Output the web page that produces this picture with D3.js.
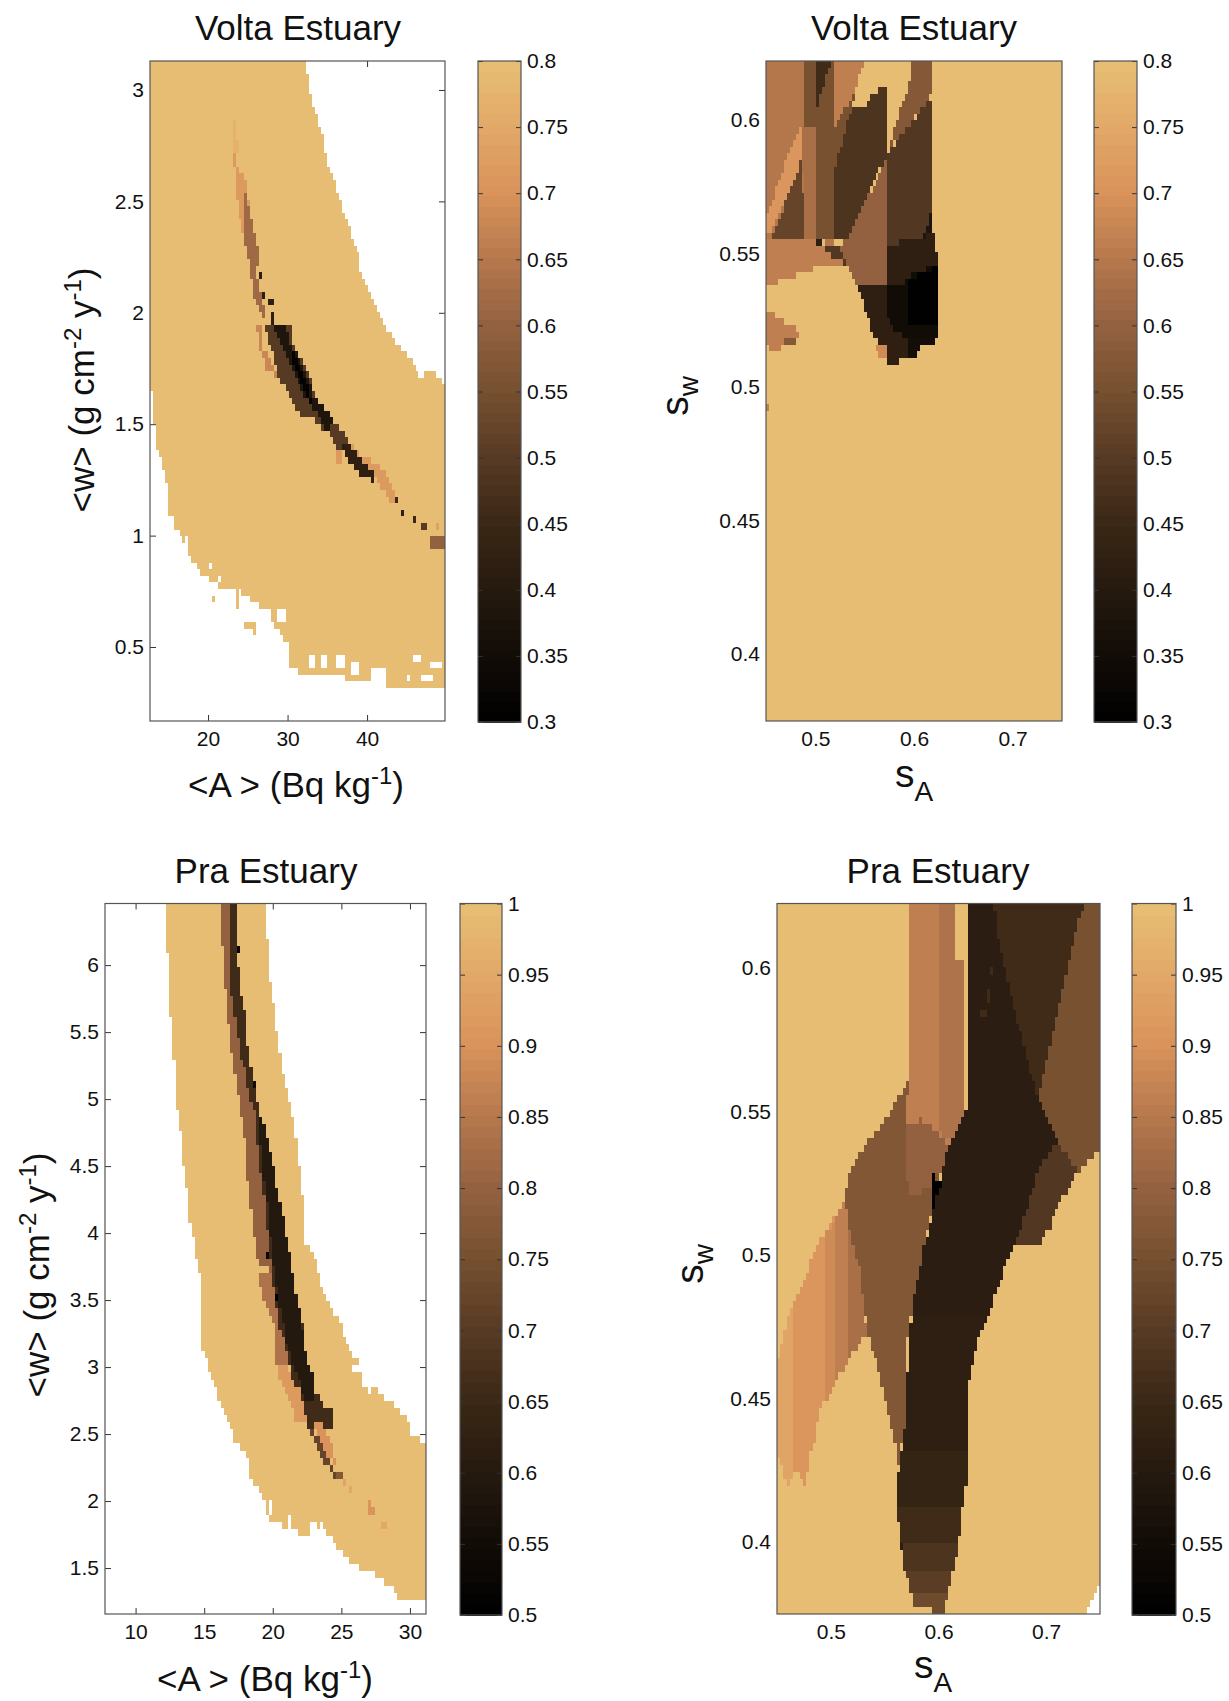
<!DOCTYPE html>
<html>
<head>
<meta charset="utf-8">
<script src="https://cdnjs.cloudflare.com/ajax/libs/d3/7.8.5/d3.min.js"></script>
<style>
  html, body { margin: 0; background: #fff; }
  text { font-family: "Liberation Sans", Arial, sans-serif; fill: #111; }
</style>
</head>
<body>
<svg id="fig" width="1229" height="1701"></svg>
<script>
// tick labels
const voltaCbTicks = [0.3, 0.35, 0.4, 0.45, 0.5, 0.55, 0.6, 0.65, 0.7, 0.75, 0.8];
const praCbTicks = [0.5, 0.55, 0.6, 0.65, 0.7, 0.75, 0.8, 0.85, 0.9, 0.95, 1];
const spreadXTicks = [0.5, 0.6, 0.7];
const spreadYTicks = [0.4, 0.45, 0.5, 0.55, 0.6];
const voltaMeanXTicks = [20, 30, 40];
const voltaMeanYTicks = [0.5, 1, 1.5, 2, 2.5, 3];
const praMeanXTicks = [10, 15, 20, 25, 30];
const praMeanYTicks = [1.5, 2, 2.5, 3, 3.5, 4, 4.5, 5, 5.5, 6];

// colour bar, bottom to top
const barStops = [0, 0.1, 0.2, 0.3, 0.4, 0.5, 0.6, 0.7, 0.8, 0.9, 1];
const barColors = ["#000000", "#120c07", "#251a0f", "#3a2716", "#573a24", "#75502f", "#936140", "#b5784c", "#d9925a", "#e2a868", "#e6bf73"];

// patches are [misfit, [[x, y], ...]] in data units, later ones paint over earlier ones. null is no data.
const voltaMeanPatches = [
  [0.8, [[12.7, 3.13], [32.3, 3.13], [32.8, 3.015], [33.5, 2.9], [34.4, 2.81], [34.7, 2.72], [35.5, 2.63], [36.5, 2.51], [37.6, 2.39], [38.8, 2.27], [39.45, 2.15], [40.7, 2.06], [41.7, 1.97], [44.1, 1.85], [46.1, 1.76], [46.8, 1.69], [47.2, 1.75], [47.9, 1.75], [48.6, 1.72], [49.5, 1.69], [49.8, 1.665], [49.8, 0.317], [47, 0.317], [43.1, 0.317], [41.9, 0.347], [37.2, 0.347], [37, 0.377], [32.3, 0.377], [30.3, 0.407], [29.9, 0.46], [30.6, 0.497], [29.6, 0.527], [28.9, 0.58], [26.6, 0.677], [25.9, 0.707], [23.4, 0.76], [21.7, 0.767], [19.5, 0.8], [18.8, 0.85], [17.5, 0.916], [17, 0.97], [16, 1.03], [15.1, 1.096], [14.8, 1.215], [14.1, 1.33], [13.5, 1.4], [13.3, 1.5], [13, 1.545], [12.85, 1.7], [12.7, 1.7]]],
  [0.77, [[23, 2.87], [23.5, 2.87], [23.7, 2.72], [23.1, 2.72]]],
  [0.72, [[23.2, 2.716], [24, 2.627], [24.7, 2.627], [25.4, 2.433], [24.9, 2.358], [24.3, 2.358], [23.4, 2.567]]],
  [0.62, [[24.7, 2.537], [25.2, 2.478], [25.8, 2.358], [26.15, 2.313], [26.5, 2.254], [26.4, 2.231], [25.9, 2.209], [25, 2.269], [24.5, 2.358]]],
  [0.62, [[25, 2.269], [25.9, 2.209], [26.4, 2.119], [27.4, 1.97], [26.8, 1.97], [25.7, 2.09]]],
  [0.68, [[26.15, 1.96], [26.6, 1.96], [26.8, 1.85], [28.4, 1.76], [28.6, 1.72], [27.6, 1.73], [26.4, 1.84]]],
  [0.72, [[37.5, 1.425], [39.5, 1.358], [41.2, 1.328], [42.7, 1.268], [43.4, 1.2], [43.9, 1.133], [43.1, 1.133], [41.9, 1.216], [40.2, 1.29], [38.5, 1.335]]],
  [0.5, [[26.9, 1.96], [30.2, 1.96], [30.8, 1.85], [32.8, 1.72], [34, 1.58], [35.5, 1.54], [36, 1.5], [37.2, 1.448], [37.9, 1.4], [36.5, 1.37], [35.3, 1.455], [33.5, 1.515], [31.3, 1.552], [29.85, 1.657], [28.9, 1.7], [27.9, 1.85]]],
  [0.42, [[36.5, 1.425], [37.7, 1.41], [39.7, 1.32], [41.4, 1.253], [40.7, 1.245], [39, 1.283], [37.2, 1.358]]],
  [0.38, [[28.1, 1.948], [29.6, 1.948], [30.6, 1.836], [31.8, 1.776], [33.3, 1.627], [34.8, 1.574], [35.8, 1.5], [35, 1.463], [34, 1.53], [32.8, 1.59], [31.3, 1.687], [29.85, 1.82], [28.6, 1.895]]],
  [0.31, [[30.1, 1.85], [30.8, 1.82], [32, 1.724], [32.8, 1.642], [33.3, 1.59], [32.3, 1.627], [31.1, 1.73]]]
];
// specks are [x0, x1, y0, y1, misfit]
const voltaMeanSpecks = [
  [26.4, 26.8, 2.14, 2.17, 0.42], [26.8, 27.2, 2.06, 2.09, 0.42], [27.7, 28.1, 2.02, 2.06, 0.42], [28, 28.4, 1.96, 1.99, 0.42],
  [36, 36.8, 1.335, 1.388, 0.72], [43.4, 43.8, 1.156, 1.185, 0.45], [44.2, 44.6, 1.096, 1.118, 0.42], [45.7, 46.1, 1.066, 1.096, 0.45],
  [46.8, 47.7, 1.036, 1.066, 0.5], [47.8, 48.3, 1.013, 1.036, 0.42], [48.1, 49.8, 0.946, 1.006, 0.6], [48.6, 49, 1.03, 1.06, 0.73],
  [32.6, 33.5, 0.407, 0.46, null], [34.3, 35, 0.407, 0.46, null], [36, 37.2, 0.407, 0.46, null], [38, 39.2, 0.377, 0.43, null],
  [40.4, 42.2, 0.347, 0.4, null], [45.9, 47, 0.43, 0.46, null], [47.8, 49.5, 0.407, 0.445, null], [46.8, 48.3, 0.347, 0.37, null],
  [44.9, 45.3, 0.347, 0.37, null], [20.2, 20.6, 0.856, 0.886, null], [19.3, 20, 0.796, 0.826, null], [21.2, 21.6, 0.8, 0.83, null],
  [17.1, 17.5, 0.92, 0.99, null], [15.3, 15.7, 1.05, 1.09, null], [27, 27.9, 0.62, 0.66, null], [28.8, 29.6, 0.6, 0.66, null],
  [24.4, 25.9, 0.587, 0.617, 0.8], [20.6, 21, 0.707, 0.737, 0.8], [23.4, 23.8, 0.677, 0.76, 0.8], [25.7, 26.1, 0.56, 0.59, 0.8], [28.1, 28.5, 0.57, 0.62, 0.8]
];

const voltaSpreadPatches = [
  [0.8, [[0.45, 0.622], [0.75, 0.622], [0.75, 0.375], [0.45, 0.375]]],
  [0.65, [[0.45, 0.622], [0.4897, 0.622], [0.4897, 0.5553], [0.45, 0.5553]]],
  [0.71, [[0.4859, 0.5975], [0.4859, 0.5851], [0.4553, 0.5578], [0.45, 0.5578], [0.45, 0.5628], [0.4763, 0.5913]]],
  [0.52, [[0.4859, 0.5851], [0.4897, 0.5553], [0.4553, 0.5553]]],
  [0.63, [[0.4859, 0.5975], [0.5011, 0.5975], [0.5011, 0.5553], [0.4897, 0.5553]]],
  [0.66, [[0.45, 0.5553], [0.5011, 0.5553], [0.5298, 0.5466], [0.505, 0.5453], [0.4897, 0.5428], [0.4706, 0.5404], [0.45, 0.5379]]],
  [0.55, [[0.4897, 0.622], [0.5011, 0.622], [0.5011, 0.5975], [0.4897, 0.5975]]],
  [0.55, [[0.5011, 0.622], [0.5202, 0.622], [0.5202, 0.5553], [0.5011, 0.5553]]],
  [0.46, [[0.5011, 0.622], [0.5164, 0.622], [0.5011, 0.6037]]],
  [0.66, [[0.5202, 0.622], [0.5489, 0.622], [0.5393, 0.61], [0.5202, 0.5975]]],
  [0.55, [[0.5202, 0.5975], [0.5393, 0.61], [0.5374, 0.605], [0.5202, 0.5826]]],
  [0.48, [[0.5374, 0.605], [0.5508, 0.605], [0.5584, 0.61], [0.5737, 0.6124], [0.5737, 0.5876], [0.5317, 0.5553], [0.5202, 0.5553], [0.5202, 0.5826]]],
  [0.58, [[0.5985, 0.622], [0.6195, 0.622], [0.6195, 0.61], [0.5755, 0.5888], [0.5755, 0.5913], [0.5966, 0.6147]]],
  [0.49, [[0.6195, 0.6093], [0.6195, 0.5553], [0.5737, 0.5528], [0.5737, 0.5876]]],
  [0.6, [[0.5737, 0.5863], [0.5737, 0.5379], [0.5431, 0.5379], [0.5298, 0.5466], [0.524, 0.5528], [0.5317, 0.5553]]],
  [0.42, [[0.5737, 0.5528], [0.6195, 0.5578], [0.6226, 0.5503], [0.6226, 0.5453], [0.5852, 0.5379], [0.5737, 0.5379]]],
  [0.38, [[0.6195, 0.567], [0.6195, 0.5578], [0.606, 0.5553], [0.6126, 0.5603]]],
  [0.8, [[0.6156, 0.5702], [0.6195, 0.5702], [0.6195, 0.5752]]],
  [0.42, [[0.5431, 0.5379], [0.5737, 0.5379], [0.5737, 0.5255], [0.5813, 0.5205], [0.5947, 0.518], [0.5947, 0.5106], [0.5737, 0.5081], [0.5718, 0.5155], [0.5584, 0.518], [0.5546, 0.5255], [0.5489, 0.5304]]],
  [0.35, [[0.5737, 0.5379], [0.587, 0.5379], [0.5985, 0.5428], [0.6233, 0.5453], [0.6233, 0.518], [0.5947, 0.518], [0.5813, 0.5205], [0.5737, 0.5255]]],
  [0.3, [[0.594, 0.5404], [0.6233, 0.5453], [0.6233, 0.5243], [0.594, 0.5243]]],
  [0.36, [[0.5947, 0.518], [0.6233, 0.518], [0.6195, 0.5155], [0.608, 0.5155], [0.606, 0.5124], [0.5947, 0.5106]]],
  [0.69, [[0.5622, 0.5149], [0.5718, 0.5155], [0.5737, 0.51], [0.5661, 0.51]]],
  [0.66, [[0.45, 0.5292], [0.463, 0.5255], [0.4744, 0.523], [0.4859, 0.5205], [0.4783, 0.516], [0.4649, 0.5155], [0.463, 0.5124], [0.4534, 0.5124], [0.45, 0.5205]]],
  [0.58, [[0.4687, 0.518], [0.4801, 0.518], [0.4763, 0.5155], [0.4687, 0.5155]]],
  [0.42, [[0.4973, 0.5553], [0.5088, 0.5553], [0.503, 0.5522]]],
  [0.49, [[0.5088, 0.5522], [0.524, 0.5522], [0.5298, 0.5466], [0.5195, 0.5478]]],
  [0.65, [[0.5088, 0.5553], [0.5202, 0.5553], [0.5202, 0.5522], [0.5088, 0.5522]]]
];
const voltaSpreadSpecks = [[0.45, 0.453, 0.49, 0.4945, 0.66]];

const praMeanPatches = [
  [1, [[12.32, 6.46], [12.32, 6.14], [12.54, 5.65], [12.77, 5.34], [12.97, 4.96], [13.3, 4.75], [13.53, 4.47], [13.73, 4.32], [13.95, 4.1], [14.29, 3.93], [14.58, 3.72], [14.86, 3.62], [14.86, 3.13], [15.23, 3.02], [15.73, 2.88], [16.2, 2.73], [16.78, 2.6], [17.2, 2.46], [17.77, 2.37], [18.33, 2.32], [18.39, 2.17], [19.04, 2.06], [19.89, 1.85], [21.44, 1.78], [22.15, 1.73], [23.56, 1.83], [24.55, 1.68], [25.4, 1.58], [25.96, 1.52], [26.95, 1.47], [27.8, 1.42], [28.64, 1.36], [29.35, 1.26], [30.2, 1.26], [31.17, 1.26], [31.17, 2.43], [30.2, 2.49], [29.5, 2.65], [28.95, 2.72], [27.9, 2.8], [26.95, 2.88], [26.1, 3.05], [25.5, 3.13], [25, 3.33], [24.27, 3.44], [23.56, 3.6], [23.3, 3.72], [22.85, 3.88], [22.3, 3.95], [22.15, 4.3], [21.86, 4.57], [21.58, 4.8], [21.16, 5.02], [20.6, 5.28], [20.3, 5.49], [20.03, 5.72], [19.75, 5.93], [19.6, 6.14], [19.5, 6.46]]],
  [0.8, [[16.3, 6.46], [16.3, 6.14], [16.5, 5.87], [16.92, 5.39], [17.2, 5.23], [17.49, 5.02], [17.9, 4.75], [18.1, 4.49], [18.33, 4.25], [18.6, 4.05], [18.76, 3.8], [20, 3.7], [20.88, 4.05], [20.5, 4.26], [20.17, 4.42], [19.75, 4.62], [19.3, 4.8], [18.84, 5], [18.5, 5.17], [18.2, 5.39], [17.9, 5.69], [17.54, 5.87], [17.4, 6.11], [17.4, 6.46]]],
  [0.84, [[18.84, 3.72], [19.9, 3.72], [20.5, 3.48], [21.2, 3.28], [21.5, 3], [20.25, 3], [20.15, 3.28], [19.32, 3.52]]],
  [0.92, [[21, 3], [22, 2.9], [22.8, 2.63], [22.29, 2.6], [21.72, 2.59], [21.44, 2.7], [20.6, 2.9], [20.25, 3]]],
  [0.66, [[16.78, 6.46], [17.4, 6.46], [17.4, 6.11], [17.54, 5.87], [17.9, 5.69], [18.2, 5.39], [18.5, 5.17], [18.84, 5], [19.3, 4.8], [19.75, 4.62], [20.17, 4.42], [20.5, 4.26], [20.88, 4.05], [21.16, 3.88], [21.38, 3.72], [21.58, 3.45], [22.15, 3.34], [22.34, 3.13], [22.57, 2.98], [23, 2.95], [23.08, 2.82], [23.47, 2.81], [23.7, 2.7], [24.27, 2.69], [24.46, 2.55], [24.1, 2.55], [22.85, 2.54], [22.57, 2.55], [22, 2.83], [21.44, 2.9], [21, 3.13], [20.45, 3.33], [20.17, 3.48], [19.75, 3.85], [19.46, 4.2], [19.12, 4.42], [18.9, 4.65], [18.76, 4.91], [18.33, 4.97], [18.05, 5.19], [17.63, 5.34], [17.34, 5.57], [16.92, 5.84], [16.78, 6.14]]],
  [0.6, [[19, 4.87], [19.46, 4.8], [20.17, 4.42], [20.88, 4.05], [21.44, 3.72], [22.07, 3.34], [22.43, 3.08], [22.9, 2.93], [23.08, 2.73], [22.57, 2.73], [21.72, 2.93], [21, 3.18], [20.3, 3.57], [19.9, 3.85], [19.6, 4.2], [19.2, 4.5]]],
  [0.72, [[22.7, 2.55], [23.4, 2.45], [24.27, 2.28], [24.97, 2.17], [24.55, 2.17], [23.7, 2.3], [23, 2.45]]],
  [0.9, [[22.85, 2.6], [23.56, 2.6], [24.4, 2.37], [24.77, 2.23], [24.27, 2.3], [23.4, 2.48]]]
];
const praMeanSpecks = [
  [25.1, 25.4, 2.1, 2.14, 0.94], [25.55, 25.85, 2.05, 2.09, 0.95], [26.85, 27.1, 1.97, 2.03, 0.91], [26.95, 27.5, 1.92, 1.97, 0.9],
  [27.5, 28.2, 1.88, 1.92, 0.89], [28.4, 28.65, 1.82, 1.87, 0.9], [28, 28.4, 1.79, 1.82, 0.95], [24.55, 24.97, 2.17, 2.22, 0.78],
  [17.4, 17.65, 6.08, 6.14, 0.53], [18.55, 18.8, 5.07, 5.13, 0.55], [19.55, 19.8, 3.82, 3.88, 0.53], [20.25, 20.5, 3.5, 3.56, 0.5],
  [25.9, 26.4, 2.95, 3, null], [26.6, 26.9, 2.86, 3.03, null], [26.9, 27.1, 2.8, 2.86, null], [19.1, 19.35, 1.9, 2.06, null],
  [19.8, 20.05, 1.88, 2.02, null], [21.1, 21.35, 1.78, 1.88, null], [21.5, 21.9, 1.72, 1.78, null], [22.7, 23.3, 1.75, 1.84, null], [19.6, 19.8, 6.42, 6.46, null]
];

const praSpreadPatches = [
  [1, [[0.45, 0.6225], [0.75, 0.6225], [0.75, 0.375], [0.45, 0.375]]],
  [0.94, [[0.5143, 0.5202], [0.4828, 0.5], [0.4793, 0.4951], [0.4601, 0.4778], [0.4521, 0.465], [0.45, 0.4604], [0.45, 0.4326], [0.4566, 0.4234], [0.4601, 0.4199], [0.4671, 0.4257], [0.4706, 0.4257], [0.4741, 0.4199], [0.4776, 0.4199], [0.48, 0.4292], [0.4846, 0.435], [0.4898, 0.4454], [0.5038, 0.4553], [0.5265, 0.4691], [0.5335, 0.4726], [0.5265, 0.4951], [0.523, 0.5]]],
  [0.91, [[0.465, 0.4815], [0.4793, 0.4951], [0.4828, 0.5], [0.5143, 0.5202], [0.523, 0.5], [0.5265, 0.4951], [0.5335, 0.4726], [0.5265, 0.4691], [0.5038, 0.4553], [0.4898, 0.4454], [0.4846, 0.435], [0.48, 0.4292], [0.4776, 0.4199], [0.4741, 0.4199], [0.4706, 0.4257], [0.4671, 0.4257], [0.465, 0.4257]]],
  [0.89, [[0.495, 0.5065], [0.5143, 0.5202], [0.523, 0.5], [0.5265, 0.4951], [0.5335, 0.4726], [0.5265, 0.4691], [0.5038, 0.4553], [0.495, 0.449]]],
  [0.86, [[0.505, 0.5135], [0.5143, 0.5202], [0.523, 0.5], [0.5265, 0.4951], [0.5335, 0.4726], [0.5265, 0.4691], [0.505, 0.4563]]],
  [0.83, [[0.515, 0.5208], [0.523, 0.5], [0.5265, 0.4951], [0.5335, 0.4726], [0.5265, 0.4691], [0.515, 0.462]]],
  [0.77, [[0.5125, 0.5208], [0.5195, 0.53], [0.5335, 0.5399], [0.5457, 0.545], [0.5631, 0.5549], [0.5719, 0.5601], [0.5736, 0.5497], [0.6086, 0.5376], [0.6033, 0.5301], [0.5946, 0.5185], [0.5824, 0.4951], [0.5771, 0.4836], [0.5708, 0.4697], [0.5708, 0.4431], [0.5649, 0.4326], [0.5632, 0.4257], [0.5597, 0.435], [0.5492, 0.4523], [0.5352, 0.472], [0.5265, 0.4951], [0.523, 0.5], [0.516, 0.5116]]],
  [0.8, [[0.5701, 0.5451], [0.5824, 0.5474], [0.5998, 0.5428], [0.6086, 0.5376], [0.6033, 0.5301], [0.5911, 0.5231], [0.5719, 0.5208]]],
  [0.86, [[0.5736, 0.6225], [0.6138, 0.6225], [0.6155, 0.6098], [0.6162, 0.6029], [0.6253, 0.6023], [0.6253, 0.552], [0.6225, 0.5486], [0.612, 0.5405], [0.6086, 0.5376], [0.5998, 0.5428], [0.5841, 0.5474], [0.5701, 0.5451], [0.5708, 0.5497], [0.5719, 0.5601], [0.5736, 0.5728]]],
  [0.84, [[0.6, 0.6225], [0.6138, 0.6225], [0.6155, 0.6098], [0.6162, 0.6029], [0.6253, 0.6023], [0.6253, 0.552], [0.6225, 0.5486], [0.612, 0.5405], [0.6, 0.5428]]],
  [0.66, [[0.64, 0.6225], [0.7343, 0.6225], [0.6924, 0.5543], [0.67, 0.56]]],
  [0.75, [[0.7343, 0.6225], [0.75, 0.6225], [0.75, 0.5376], [0.7413, 0.5335], [0.729, 0.5289], [0.7105, 0.5393], [0.6993, 0.5497], [0.6924, 0.5543]]],
  [0.69, [[0.7105, 0.5393], [0.729, 0.5289], [0.7203, 0.5231], [0.7116, 0.5173], [0.7028, 0.5092], [0.6924, 0.5029], [0.66, 0.5029], [0.6767, 0.53], [0.7011, 0.5347]]],
  [0.61, [[0.626, 0.6225], [0.626, 0.552], [0.6155, 0.5428], [0.6068, 0.5347], [0.6016, 0.5266], [0.5946, 0.515], [0.5859, 0.5017], [0.5824, 0.4951], [0.5771, 0.4847], [0.5719, 0.4697], [0.5708, 0.4431], [0.5656, 0.4321], [0.5614, 0.4222], [0.5597, 0.4118], [0.5632, 0.4054], [0.5656, 0.3973], [0.5684, 0.3904], [0.5736, 0.3835], [0.5771, 0.3777], [0.5928, 0.3777], [0.5928, 0.375], [0.6033, 0.375], [0.6068, 0.3777], [0.6103, 0.3835], [0.6138, 0.391], [0.619, 0.4002], [0.6225, 0.4118], [0.626, 0.4199], [0.626, 0.4523], [0.6312, 0.4604], [0.6382, 0.4726], [0.6452, 0.4778], [0.6557, 0.4894], [0.6609, 0.4951], [0.6627, 0.4977], [0.6767, 0.5092], [0.6924, 0.5289], [0.7011, 0.5347], [0.7105, 0.5393], [0.6993, 0.5497], [0.6924, 0.5543], [0.6819, 0.5694], [0.6714, 0.5844], [0.6627, 0.5983], [0.654, 0.6121], [0.6522, 0.6225]]],
  [0.62, [[0.5771, 0.48], [0.5719, 0.4697], [0.5708, 0.4431], [0.5656, 0.4321], [0.5614, 0.4222], [0.5597, 0.4118], [0.6225, 0.4118], [0.626, 0.4199], [0.626, 0.4523], [0.6312, 0.4604], [0.6382, 0.4726], [0.6452, 0.48]]],
  [0.64, [[0.5656, 0.4321], [0.5614, 0.4222], [0.5597, 0.4118], [0.6225, 0.4118], [0.626, 0.4199], [0.626, 0.4321]]],
  [0.66, [[0.5597, 0.4118], [0.5632, 0.4054], [0.5656, 0.4002], [0.619, 0.4002], [0.6225, 0.4118]]],
  [0.68, [[0.5656, 0.4002], [0.5656, 0.3973], [0.5684, 0.3904], [0.6138, 0.3904], [0.619, 0.4002]]],
  [0.71, [[0.5684, 0.3904], [0.5736, 0.3835], [0.6103, 0.3835], [0.6138, 0.3904]]],
  [0.74, [[0.5736, 0.3835], [0.5771, 0.3777], [0.5928, 0.3777], [0.5928, 0.375], [0.6033, 0.375], [0.6068, 0.3777], [0.6103, 0.3835]]],
  [0.5, [[0.5946, 0.5277], [0.6016, 0.5254], [0.6016, 0.5231], [0.5985, 0.52], [0.5965, 0.5173], [0.5935, 0.515], [0.5956, 0.5231]]],
  [null, [[0.7378, 0.375], [0.7431, 0.3805], [0.7476, 0.3852], [0.75, 0.3852], [0.75, 0.375]]]
];
const praSpreadSpecks = [
  [0.6475, 0.6505, 0.597, 0.6, 0.66], [0.644, 0.647, 0.588, 0.593, 0.66], [0.6405, 0.6435, 0.582, 0.585, 0.66]
];

const panels = [
  { title: "Volta Estuary", box: [150, 61, 445, 721], bar: [478, 521], xDomain: [12.7, 49.8], yDomain: [0.168, 3.13], xTicks: voltaMeanXTicks, yTicks: voltaMeanYTicks, range: [0.3, 0.8], barTicks: voltaCbTicks, patches: voltaMeanPatches, specks: voltaMeanSpecks, titleAt: [298, 40], kind: "mean", xLabelAt: [296, 797], yLabelAt: [94, 390] },
  { title: "Volta Estuary", box: [766, 61, 1062, 721], bar: [1094, 1137], xDomain: [0.45, 0.75], yDomain: [0.375, 0.622], xTicks: spreadXTicks, yTicks: spreadYTicks, range: [0.3, 0.8], barTicks: voltaCbTicks, patches: voltaSpreadPatches, specks: voltaSpreadSpecks, titleAt: [914, 40], kind: "spread", xLabelAt: [900, 787], yLabelAt: [688, 396] },
  { title: "Pra Estuary", box: [105, 903.5, 426, 1614], bar: [460, 502], xDomain: [7.77, 31.17], yDomain: [1.157, 6.46], xTicks: praMeanXTicks, yTicks: praMeanYTicks, range: [0.5, 1], barTicks: praCbTicks, patches: praMeanPatches, specks: praMeanSpecks, titleAt: [266, 883], kind: "mean", xLabelAt: [265, 1691], yLabelAt: [49, 1275] },
  { title: "Pra Estuary", box: [777, 903.5, 1100, 1614], bar: [1132, 1176], xDomain: [0.45, 0.75], yDomain: [0.375, 0.6225], xTicks: spreadXTicks, yTicks: spreadYTicks, range: [0.5, 1], barTicks: praCbTicks, patches: praSpreadPatches, specks: praSpreadSpecks, titleAt: [938, 883], kind: "spread", xLabelAt: [919, 1678], yLabelAt: [703, 1264] }
];

const gridSize = 100;
const barLevels = 64;
const titleSize = 35, labelSize = 35, supSize = 24, tickSize = 21;

const barColor = d3.scaleLinear().domain(barStops).range(barColors);
function levelColor(t) {
  const level = Math.min(barLevels - 1, Math.floor(t * barLevels));
  return barColor((level + 0.5) / barLevels);
}

const svg = d3.select("#fig");

// text made of pieces: [string, baseline shift, font size]
function richText(g, pieces) {
  const t = g.append("text").attr("text-anchor", "middle");
  let prev = 0;
  pieces.forEach(([s, shift, size]) => {
    t.append("tspan").attr("dy", shift - prev).style("font-size", size + "px").text(s);
    prev = shift;
  });
  return t;
}

function drawCells(g, p, x, y) {
  const dx = (p.xDomain[1] - p.xDomain[0]) / gridSize;
  const dy = (p.yDomain[1] - p.yDomain[0]) / gridSize;
  const cellColor = v => v === null ? null : levelColor((v - p.range[0]) / (p.range[1] - p.range[0]));
  d3.range(gridSize).forEach(j => {
    const cy = p.yDomain[0] + (j + 0.5) * dy;
    let runStart = 0, runColor = null;
    d3.range(gridSize + 1).forEach(i => {
      let c = null;
      if (i < gridSize) {
        const cx = p.xDomain[0] + (i + 0.5) * dx;
        let val = null;
        p.patches.forEach(([v, pts]) => { if (d3.polygonContains(pts, [cx, cy])) val = v; });
        p.specks.forEach(([x0, x1, y0, y1, v]) => { if (cx >= x0 && cx <= x1 && cy >= y0 && cy <= y1) val = v; });
        c = cellColor(val);
      }
      if (c !== runColor || i === gridSize) {
        if (runColor) {
          g.append("rect")
            .attr("x", x(p.xDomain[0] + runStart * dx))
            .attr("y", y(p.yDomain[0] + (j + 1) * dy))
            .attr("width", x(p.xDomain[0] + i * dx) - x(p.xDomain[0] + runStart * dx))
            .attr("height", y(p.yDomain[0] + j * dy) - y(p.yDomain[0] + (j + 1) * dy))
            .attr("fill", runColor)
            .attr("shape-rendering", "crispEdges");
        }
        runStart = i;
        runColor = c;
      }
    });
  });
}

function styleAxis(g) {
  g.select(".domain").remove();
  g.selectAll("line").attr("stroke", "#333").attr("stroke-width", 1);
  g.selectAll("text").style("font-size", tickSize + "px").style("font-family", '"Liberation Sans", Arial, sans-serif').attr("fill", "#111");
}

panels.forEach(p => {
  const [left, top, right, bottom] = p.box;
  const x = d3.scaleLinear().domain(p.xDomain).range([left, right]);
  const y = d3.scaleLinear().domain(p.yDomain).range([bottom, top]);
  const g = svg.append("g");

  // ticks sit under the cells, as in the original
  g.append("g").attr("transform", `translate(0,${bottom})`)
    .call(d3.axisBottom(x).tickValues(p.xTicks).tickSizeInner(-6).tickSizeOuter(0).tickPadding(10).tickFormat(d => d))
    .call(styleAxis);
  g.append("g").attr("transform", `translate(0,${top})`)
    .call(d3.axisTop(x).tickValues(p.xTicks).tickSizeInner(-6).tickSizeOuter(0).tickFormat(""))
    .call(styleAxis);
  g.append("g").attr("transform", `translate(${left},0)`)
    .call(d3.axisLeft(y).tickValues(p.yTicks).tickSizeInner(-6).tickSizeOuter(0).tickPadding(6).tickFormat(d => d))
    .call(styleAxis);
  g.append("g").attr("transform", `translate(${right},0)`)
    .call(d3.axisRight(y).tickValues(p.yTicks).tickSizeInner(-6).tickSizeOuter(0).tickFormat(""))
    .call(styleAxis);

  drawCells(g.append("g"), p, x, y);

  g.append("rect").attr("x", left).attr("y", top).attr("width", right - left).attr("height", bottom - top)
    .attr("fill", "none").attr("stroke", "#555").attr("stroke-width", 1.2);

  // colour bar
  const barY = d3.scaleLinear().domain(p.range).range([bottom + 1, top]);
  const [bl, br] = p.bar;
  g.append("g").selectAll("rect").data(d3.range(barLevels)).join("rect")
    .attr("x", bl).attr("width", br - bl)
    .attr("y", i => barY(p.range[0] + (i + 1) / barLevels * (p.range[1] - p.range[0])))
    .attr("height", (bottom + 1 - top) / barLevels + 1)
    .attr("fill", i => barColor((i + 0.5) / barLevels))
    .attr("shape-rendering", "crispEdges");
  g.append("g").attr("transform", `translate(${br},0)`)
    .call(d3.axisRight(barY).tickValues(p.barTicks).tickSizeInner(-5).tickSizeOuter(0).tickPadding(6).tickFormat(d => d))
    .call(styleAxis);
  g.append("g").attr("transform", `translate(${bl},0)`)
    .call(d3.axisLeft(barY).tickValues(p.barTicks).tickSizeInner(-5).tickSizeOuter(0).tickFormat(""))
    .call(styleAxis);
  g.append("rect").attr("x", bl).attr("y", top).attr("width", br - bl).attr("height", bottom + 1 - top)
    .attr("fill", "none").attr("stroke", "#555").attr("stroke-width", 1.2);

  // title and axis labels
  g.append("text").attr("x", p.titleAt[0]).attr("y", p.titleAt[1]).attr("text-anchor", "middle")
    .style("font-size", titleSize + "px").text(p.title);

  if (p.kind === "mean") {
    richText(g.append("g").attr("transform", `translate(${p.xLabelAt[0]},${p.xLabelAt[1]})`),
      [["<A > (Bq kg", 0, labelSize], ["-1", -13, supSize], [")", 0, labelSize]]);
    richText(g.append("g").attr("transform", `translate(${p.yLabelAt[0]},${p.yLabelAt[1]}) rotate(-90)`),
      [["<w> (g cm", 0, labelSize], ["-2", -13, supSize], [" y", 0, labelSize], ["-1", -13, supSize], [")", 0, labelSize]]);
  } else {
    const sx = p.xLabelAt[0], sy = p.xLabelAt[1];
    richText(g.append("g").attr("transform", `translate(${sx + 14},${sy})`),
      [["s", 0, labelSize + 4], ["A", 14, 28]]);
    richText(g.append("g").attr("transform", `translate(${p.yLabelAt[0]},${p.yLabelAt[1]}) rotate(-90)`),
      [["s", 0, labelSize + 4], ["w", 10, 28]]);
  }
});
</script>
</body>
</html>
